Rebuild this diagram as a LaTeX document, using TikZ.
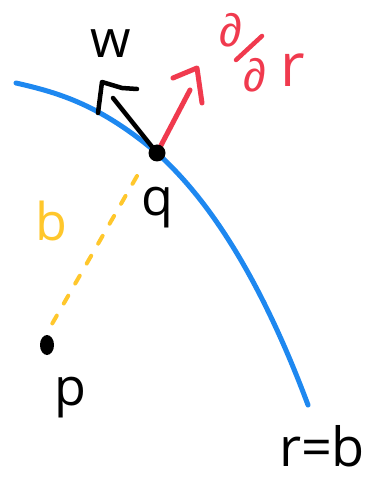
\documentclass[tikz,border=0pt]{standalone}
\usepackage{fontspec}
\usetikzlibrary{shapes.geometric}
\setmainfont{Open Sans}
\newfontfamily\lsfont{Liberation Sans}
\begin{document}
\begin{tikzpicture}[x=1pt,y=-1pt,
  stroke/.style={line width=5pt,line cap=round,line join=round},
  lbl/.style={font=\fontsize{52}{52}\selectfont,inner sep=0pt,anchor=base},
  dlbl/.style={font=\lsfont\fontsize{46}{46}\selectfont,inner sep=0pt,anchor=base}]
\definecolor{cblue}{HTML}{1E88F0}
\definecolor{cred}{HTML}{F03A4E}
\definecolor{cyel}{HTML}{FFC72C}
\useasboundingbox (0,0) rectangle (383,478);
% blue curve r=b
\draw[stroke,cblue] (16,83) .. controls (60,93) and (100,105) .. (157,153)
  .. controls (215,205) and (265,290) .. (308,405);
% yellow dashed b
\coordinate (qs) at (137,176);
\coordinate (pe) at (52,324);
\draw[cyel,line width=4pt,line cap=round,dash pattern=on 9pt off 14pt] (qs) -- (pe);
% w arrow
\coordinate (wt) at (113,98);
\coordinate (qc) at (157,153);
\draw[stroke,black,line width=4.5pt] (qc) -- (wt);
\draw[stroke,black,line width=4.5pt] (98,113) -- (102,82) -- (122,88) -- (137,89);
% red arrow
\coordinate (rt) at (190,90);
\draw[stroke,cred] (qc) -- (rt);
\draw[stroke,cred] (173,78) -- (197,68) -- (202,103);
% points
\node[fill=black,circle,minimum width=17pt,inner sep=0pt] (q) at (qc) {};
\node[fill=black,ellipse,minimum width=14pt,minimum height=20pt,inner sep=0pt] (p) at (47,345) {};
% labels
\node[lbl] (wl) at (111,58) {w};
\node[dlbl,cred] (d1) at (231,47) {∂};
\node[dlbl,cred] (d2) at (255,92) {∂};
\coordinate (s1) at (236,60);
\coordinate (s2) at (262,36);
\draw[cred,line width=4.5pt,line cap=round] (s1) -- (s2);
\node[lbl,cred,font=\fontsize{60}{60}\selectfont] (rr) at (293,87) {r};
\node[lbl] (ql) at (157,215) {q};
\node[lbl,cyel] (bl) at (51,240) {b};
\node[lbl] (pl) at (70,405) {p};
\node[lbl,font=\fontsize{54}{54}\selectfont] (rb) at (322,466) {r=b};
\end{tikzpicture}
\end{document}
